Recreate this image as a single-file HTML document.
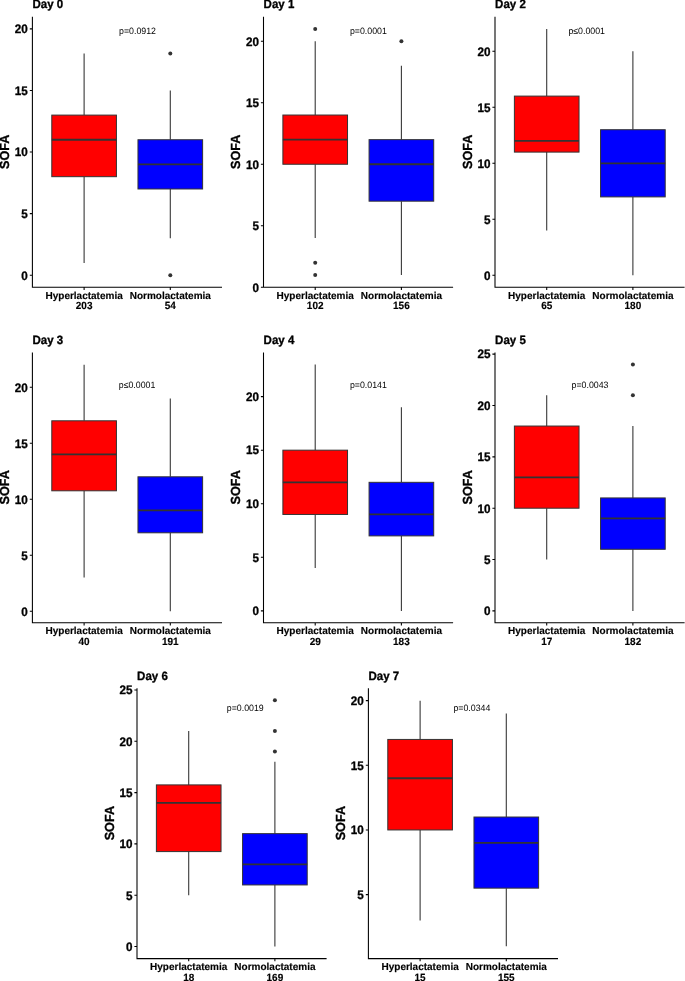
<!DOCTYPE html>
<html lang="en">
<head>
<meta charset="utf-8">
<title>SOFA by lactate group, Day 0-7</title>
<style>
html,body{margin:0;padding:0;background:#fff;}
body{width:685px;height:981px;overflow:hidden;font-family:"Liberation Sans",sans-serif;}
svg{display:block;will-change:transform;}
text{font-family:"Liberation Sans",sans-serif;fill:#000;text-rendering:geometricPrecision;}
.ttl,.ylab,.tk,.cat{stroke:#000;stroke-width:0.3px;stroke-linejoin:round;paint-order:stroke fill;}
.cat{stroke-width:0.15px;}
.ttl{font-size:11.5px;font-weight:bold;}
.ylab{font-size:12.6px;font-weight:bold;text-anchor:middle;}
.tk{font-size:11.7px;font-weight:bold;text-anchor:end;}
.cat{font-size:10.0px;font-weight:bold;text-anchor:middle;}
.pv{font-size:8.8px;text-anchor:middle;fill:#000;}
.ax{fill:none;stroke:#000000;stroke-width:1.07;}
.wh{fill:none;stroke:#333333;stroke-width:1.07;}
.bx{stroke:#333333;stroke-width:1.0;}
.md{fill:none;stroke:#333333;stroke-width:1.8;}
.pt{fill:#333333;}
</style>
</head>
<body>
<svg width="685" height="981" viewBox="0 0 685 981">
<rect x="0" y="0" width="685" height="981" fill="#ffffff"/>
<g>
<text class="ttl" transform="translate(32.5 8.3) scale(1 1.045)">Day 0</text>
<text class="ylab" transform="translate(9.2 151.75) rotate(-90) scale(1 1.045)">SOFA</text>
<path class="wh" d="M84.11 53.53V115.1M84.11 176.68V262.88"/>
<rect class="bx" x="51.79" y="115.1" width="64.64" height="61.58" fill="#ff0000"/>
<path class="md" d="M51.79 139.73H116.43"/>
<path class="wh" d="M170.29 90.47V139.73M170.29 189V238.25"/>
<rect class="bx" x="137.97" y="139.73" width="64.64" height="49.26" fill="#0000ff"/>
<path class="md" d="M137.97 164.37H202.61"/>
<circle class="pt" cx="170.29" cy="53.53" r="2.0"/>
<circle class="pt" cx="170.29" cy="275.2" r="2.0"/>
<path class="ax" d="M32.4 16.8V287.3H222M29.8 275.2H32.4M29.8 213.62H32.4M29.8 152.05H32.4M29.8 90.47H32.4M29.8 28.9H32.4M84.11 287.3V289.9M170.29 287.3V289.9"/>
<text class="tk" transform="translate(27.8 279.5) scale(1 1.045)">0</text>
<text class="tk" transform="translate(27.8 217.93) scale(1 1.045)">5</text>
<text class="tk" transform="translate(27.8 156.35) scale(1 1.045)">10</text>
<text class="tk" transform="translate(27.8 94.77) scale(1 1.045)">15</text>
<text class="tk" transform="translate(27.8 33.2) scale(1 1.045)">20</text>
<text class="cat" transform="translate(84.11 298.5) scale(1 1.02)">Hyperlactatemia</text>
<text class="cat" transform="translate(84.11 309.4) scale(1 1.045)">203</text>
<text class="cat" transform="translate(170.29 298.5) scale(1 1.02)">Normolactatemia</text>
<text class="cat" transform="translate(170.29 309.4) scale(1 1.045)">54</text>
<text class="pv" transform="translate(137.55 33.6) scale(1 1.045)">p=0.0912</text>
</g>
<g>
<text class="ttl" transform="translate(263.6 8.3) scale(1 1.045)">Day 1</text>
<text class="ylab" transform="translate(240.3 151.75) rotate(-90) scale(1 1.045)">SOFA</text>
<path class="wh" d="M315.21 41.2V115.03M315.21 164.25V238.08"/>
<rect class="bx" x="282.89" y="115.03" width="64.64" height="49.22" fill="#ff0000"/>
<path class="md" d="M282.89 139.64H347.53"/>
<circle class="pt" cx="315.21" cy="28.9" r="2.0"/>
<circle class="pt" cx="315.21" cy="262.69" r="2.0"/>
<circle class="pt" cx="315.21" cy="275" r="2.0"/>
<path class="wh" d="M401.39 65.81V139.64M401.39 201.17V275"/>
<rect class="bx" x="369.07" y="139.64" width="64.64" height="61.53" fill="#0000ff"/>
<path class="md" d="M369.07 164.25H433.71"/>
<circle class="pt" cx="401.39" cy="41.2" r="2.0"/>
<path class="ax" d="M263.5 16.8V287.3H453.1M260.9 287.3H263.5M260.9 225.78H263.5M260.9 164.25H263.5M260.9 102.73H263.5M260.9 41.2H263.5M315.21 287.3V289.9M401.39 287.3V289.9"/>
<text class="tk" transform="translate(258.9 291.6) scale(1 1.045)">0</text>
<text class="tk" transform="translate(258.9 230.08) scale(1 1.045)">5</text>
<text class="tk" transform="translate(258.9 168.55) scale(1 1.045)">10</text>
<text class="tk" transform="translate(258.9 107.03) scale(1 1.045)">15</text>
<text class="tk" transform="translate(258.9 45.5) scale(1 1.045)">20</text>
<text class="cat" transform="translate(315.21 298.5) scale(1 1.02)">Hyperlactatemia</text>
<text class="cat" transform="translate(315.21 309.4) scale(1 1.045)">102</text>
<text class="cat" transform="translate(401.39 298.5) scale(1 1.02)">Normolactatemia</text>
<text class="cat" transform="translate(401.39 309.4) scale(1 1.045)">156</text>
<text class="pv" transform="translate(368.4 33.6) scale(1 1.045)">p=0.0001</text>
</g>
<g>
<text class="ttl" transform="translate(495.1 8.3) scale(1 1.045)">Day 2</text>
<text class="ylab" transform="translate(471.8 151.75) rotate(-90) scale(1 1.045)">SOFA</text>
<path class="wh" d="M546.71 28.9V96.1M546.71 152.1V230.5"/>
<rect class="bx" x="514.39" y="96.1" width="64.64" height="56" fill="#ff0000"/>
<path class="md" d="M514.39 140.9H579.03"/>
<path class="wh" d="M632.89 51.3V129.7M632.89 196.9V275.3"/>
<rect class="bx" x="600.57" y="129.7" width="64.64" height="67.2" fill="#0000ff"/>
<path class="md" d="M600.57 163.3H665.21"/>
<path class="ax" d="M495 16.8V287.3H684.6M492.4 275.3H495M492.4 219.3H495M492.4 163.3H495M492.4 107.3H495M492.4 51.3H495M546.71 287.3V289.9M632.89 287.3V289.9"/>
<text class="tk" transform="translate(490.4 279.6) scale(1 1.045)">0</text>
<text class="tk" transform="translate(490.4 223.6) scale(1 1.045)">5</text>
<text class="tk" transform="translate(490.4 167.6) scale(1 1.045)">10</text>
<text class="tk" transform="translate(490.4 111.6) scale(1 1.045)">15</text>
<text class="tk" transform="translate(490.4 55.6) scale(1 1.045)">20</text>
<text class="cat" transform="translate(546.71 298.5) scale(1 1.02)">Hyperlactatemia</text>
<text class="cat" transform="translate(546.71 309.4) scale(1 1.045)">65</text>
<text class="cat" transform="translate(632.89 298.5) scale(1 1.02)">Normolactatemia</text>
<text class="cat" transform="translate(632.89 309.4) scale(1 1.045)">180</text>
<text class="pv" transform="translate(586.7 33.6) scale(1 1.045)">p≤0.0001</text>
</g>
<g>
<text class="ttl" transform="translate(32.5 343.9) scale(1 1.045)">Day 3</text>
<text class="ylab" transform="translate(9.2 487.3) rotate(-90) scale(1 1.045)">SOFA</text>
<path class="wh" d="M84.11 364.8V420.8M84.11 490.8V577.6"/>
<rect class="bx" x="51.79" y="420.8" width="64.64" height="70" fill="#ff0000"/>
<path class="md" d="M51.79 454.4H116.43"/>
<path class="wh" d="M170.29 398.4V476.8M170.29 532.8V611.2"/>
<rect class="bx" x="137.97" y="476.8" width="64.64" height="56" fill="#0000ff"/>
<path class="md" d="M137.97 510.4H202.61"/>
<path class="ax" d="M32.4 352.4V622.8H222M29.8 611.2H32.4M29.8 555.2H32.4M29.8 499.2H32.4M29.8 443.2H32.4M29.8 387.2H32.4M84.11 622.8V625.4M170.29 622.8V625.4"/>
<text class="tk" transform="translate(27.8 615.5) scale(1 1.045)">0</text>
<text class="tk" transform="translate(27.8 559.5) scale(1 1.045)">5</text>
<text class="tk" transform="translate(27.8 503.5) scale(1 1.045)">10</text>
<text class="tk" transform="translate(27.8 447.5) scale(1 1.045)">15</text>
<text class="tk" transform="translate(27.8 391.5) scale(1 1.045)">20</text>
<text class="cat" transform="translate(84.11 634) scale(1 1.02)">Hyperlactatemia</text>
<text class="cat" transform="translate(84.11 644.9) scale(1 1.045)">40</text>
<text class="cat" transform="translate(170.29 634) scale(1 1.02)">Normolactatemia</text>
<text class="cat" transform="translate(170.29 644.9) scale(1 1.045)">191</text>
<text class="pv" transform="translate(137.05 388.3) scale(1 1.045)">p≤0.0001</text>
</g>
<g>
<text class="ttl" transform="translate(263.6 343.9) scale(1 1.045)">Day 4</text>
<text class="ylab" transform="translate(240.3 487.3) rotate(-90) scale(1 1.045)">SOFA</text>
<path class="wh" d="M315.21 364.45V450.17M315.21 514.46V568.04"/>
<rect class="bx" x="282.89" y="450.17" width="64.64" height="64.29" fill="#ff0000"/>
<path class="md" d="M282.89 482.32H347.53"/>
<path class="wh" d="M401.39 407.31V482.32M401.39 535.89V610.9"/>
<rect class="bx" x="369.07" y="482.32" width="64.64" height="53.57" fill="#0000ff"/>
<path class="md" d="M369.07 514.46H433.71"/>
<path class="ax" d="M263.5 352.4V622.8H453.1M260.9 610.9H263.5M260.9 557.32H263.5M260.9 503.75H263.5M260.9 450.17H263.5M260.9 396.6H263.5M315.21 622.8V625.4M401.39 622.8V625.4"/>
<text class="tk" transform="translate(258.9 615.2) scale(1 1.045)">0</text>
<text class="tk" transform="translate(258.9 561.62) scale(1 1.045)">5</text>
<text class="tk" transform="translate(258.9 508.05) scale(1 1.045)">10</text>
<text class="tk" transform="translate(258.9 454.47) scale(1 1.045)">15</text>
<text class="tk" transform="translate(258.9 400.9) scale(1 1.045)">20</text>
<text class="cat" transform="translate(315.21 634) scale(1 1.02)">Hyperlactatemia</text>
<text class="cat" transform="translate(315.21 644.9) scale(1 1.045)">29</text>
<text class="cat" transform="translate(401.39 634) scale(1 1.02)">Normolactatemia</text>
<text class="cat" transform="translate(401.39 644.9) scale(1 1.045)">183</text>
<text class="pv" transform="translate(368.4 388.3) scale(1 1.045)">p=0.0141</text>
</g>
<g>
<text class="ttl" transform="translate(495.1 343.9) scale(1 1.045)">Day 5</text>
<text class="ylab" transform="translate(471.8 487.3) rotate(-90) scale(1 1.045)">SOFA</text>
<path class="wh" d="M546.71 395.23V426.04M546.71 508.2V559.55"/>
<rect class="bx" x="514.39" y="426.04" width="64.64" height="82.16" fill="#ff0000"/>
<path class="md" d="M514.39 477.39H579.03"/>
<path class="wh" d="M632.89 426.04V497.93M632.89 549.28V610.9"/>
<rect class="bx" x="600.57" y="497.93" width="64.64" height="51.35" fill="#0000ff"/>
<path class="md" d="M600.57 518.47H665.21"/>
<circle class="pt" cx="632.89" cy="364.42" r="2.0"/>
<circle class="pt" cx="632.89" cy="395.23" r="2.0"/>
<path class="ax" d="M495 352.4V622.8H684.6M492.4 610.9H495M492.4 559.55H495M492.4 508.2H495M492.4 456.85H495M492.4 405.5H495M492.4 354.15H495M546.71 622.8V625.4M632.89 622.8V625.4"/>
<text class="tk" transform="translate(490.4 615.2) scale(1 1.045)">0</text>
<text class="tk" transform="translate(490.4 563.85) scale(1 1.045)">5</text>
<text class="tk" transform="translate(490.4 512.5) scale(1 1.045)">10</text>
<text class="tk" transform="translate(490.4 461.15) scale(1 1.045)">15</text>
<text class="tk" transform="translate(490.4 409.8) scale(1 1.045)">20</text>
<text class="tk" transform="translate(490.4 358.45) scale(1 1.045)">25</text>
<text class="cat" transform="translate(546.71 634) scale(1 1.02)">Hyperlactatemia</text>
<text class="cat" transform="translate(546.71 644.9) scale(1 1.045)">17</text>
<text class="cat" transform="translate(632.89 634) scale(1 1.02)">Normolactatemia</text>
<text class="cat" transform="translate(632.89 644.9) scale(1 1.045)">182</text>
<text class="pv" transform="translate(590 388.3) scale(1 1.045)">p=0.0043</text>
</g>
<g>
<text class="ttl" transform="translate(137.1 679.8) scale(1 1.045)">Day 6</text>
<text class="ylab" transform="translate(113.8 823.15) rotate(-90) scale(1 1.045)">SOFA</text>
<path class="wh" d="M188.71 731.04V784.9M188.71 851.6V895.2"/>
<rect class="bx" x="156.39" y="784.9" width="64.64" height="66.69" fill="#ff0000"/>
<path class="md" d="M156.39 802.86H221.03"/>
<path class="wh" d="M274.89 761.82V833.64M274.89 884.94V946.5"/>
<rect class="bx" x="242.57" y="833.64" width="64.64" height="51.3" fill="#0000ff"/>
<path class="md" d="M242.57 864.42H307.21"/>
<circle class="pt" cx="274.89" cy="700.26" r="2.0"/>
<circle class="pt" cx="274.89" cy="731.04" r="2.0"/>
<circle class="pt" cx="274.89" cy="751.56" r="2.0"/>
<path class="ax" d="M137 688.3V958.6H326.6M134.4 946.5H137M134.4 895.2H137M134.4 843.9H137M134.4 792.6H137M134.4 741.3H137M134.4 690H137M188.71 958.6V961.2M274.89 958.6V961.2"/>
<text class="tk" transform="translate(132.4 950.8) scale(1 1.045)">0</text>
<text class="tk" transform="translate(132.4 899.5) scale(1 1.045)">5</text>
<text class="tk" transform="translate(132.4 848.2) scale(1 1.045)">10</text>
<text class="tk" transform="translate(132.4 796.9) scale(1 1.045)">15</text>
<text class="tk" transform="translate(132.4 745.6) scale(1 1.045)">20</text>
<text class="tk" transform="translate(132.4 694.3) scale(1 1.045)">25</text>
<text class="cat" transform="translate(188.71 969.8) scale(1 1.02)">Hyperlactatemia</text>
<text class="cat" transform="translate(188.71 980.7) scale(1 1.045)">18</text>
<text class="cat" transform="translate(274.89 969.8) scale(1 1.02)">Normolactatemia</text>
<text class="cat" transform="translate(274.89 980.7) scale(1 1.045)">169</text>
<text class="pv" transform="translate(245.3 710.6) scale(1 1.045)">p=0.0019</text>
</g>
<g>
<text class="ttl" transform="translate(368.5 679.8) scale(1 1.045)">Day 7</text>
<text class="ylab" transform="translate(345.2 823.15) rotate(-90) scale(1 1.045)">SOFA</text>
<path class="wh" d="M420.11 700.65V739.44M420.11 829.95V920.46"/>
<rect class="bx" x="387.79" y="739.44" width="64.64" height="90.51" fill="#ff0000"/>
<path class="md" d="M387.79 778.23H452.43"/>
<path class="wh" d="M506.29 713.58V817.02M506.29 888.13V946.32"/>
<rect class="bx" x="473.97" y="817.02" width="64.64" height="71.12" fill="#0000ff"/>
<path class="md" d="M473.97 842.88H538.61"/>
<path class="ax" d="M368.4 688.3V958.6H558M365.8 894.6H368.4M365.8 829.95H368.4M365.8 765.3H368.4M365.8 700.65H368.4M420.11 958.6V961.2M506.29 958.6V961.2"/>
<text class="tk" transform="translate(363.8 898.9) scale(1 1.045)">5</text>
<text class="tk" transform="translate(363.8 834.25) scale(1 1.045)">10</text>
<text class="tk" transform="translate(363.8 769.6) scale(1 1.045)">15</text>
<text class="tk" transform="translate(363.8 704.95) scale(1 1.045)">20</text>
<text class="cat" transform="translate(420.11 969.8) scale(1 1.02)">Hyperlactatemia</text>
<text class="cat" transform="translate(420.11 980.7) scale(1 1.045)">15</text>
<text class="cat" transform="translate(506.29 969.8) scale(1 1.02)">Normolactatemia</text>
<text class="cat" transform="translate(506.29 980.7) scale(1 1.045)">155</text>
<text class="pv" transform="translate(471.9 710.6) scale(1 1.045)">p=0.0344</text>
</g>
</svg>
</body>
</html>
